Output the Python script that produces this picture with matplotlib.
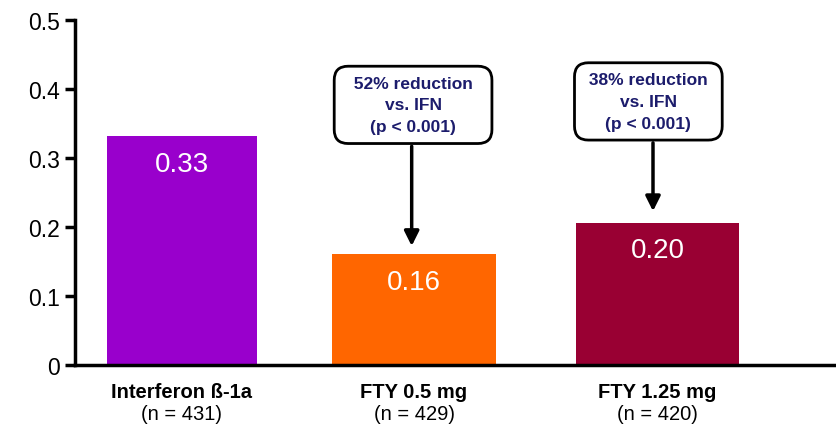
import matplotlib.pyplot as plt

# bar data
groups = ['Interferon ß-1a', 'FTY 0.5 mg', 'FTY 1.25 mg']
n_labels = ['(n = 431)', '(n = 429)', '(n = 420)']
rates = [0.332, 0.161, 0.206]
rate_labels = ['0.33', '0.16', '0.20']
colors = ['#9900CC', '#FF6600', '#990033']

# callouts: text, arrow tip value
callouts = ['  52% reduction  \nvs. IFN\n(p < 0.001)', ' 38% reduction \nvs. IFN\n(p < 0.001)']
callout_tips = [0.1725, 0.223]

positions = [0, 1, 2.05]
widths = [0.65, 0.71, 0.70]

plt.rcParams['font.family'] = ['Liberation Sans', 'DejaVu Sans']

fig = plt.figure(figsize=(8.37, 4.27), dpi=100)
ax = fig.add_axes([75 / 837, 1 - 366 / 427, 1 - 75 / 837, 345 / 427])

ax.bar(positions, rates, width=widths, color=colors, zorder=2)

for x, r, lab in zip(positions, rates, rate_labels):
    ax.text(x, r - 0.04, lab, ha='center', va='center', color='white', fontsize=20)

for x, g, n in zip(positions, groups, n_labels):
    ax.text(x, -0.025, g, ha='center', va='top', fontsize=14.5, fontweight='bold')
    ax.text(x, -0.056, n, ha='center', va='top', fontsize=14.5)

# callout boxes with arrows down to the FTY bars
box_x = [0.996, 2.01]
arrow_x = [0.99, 2.03]
box_y = [0.377, 0.382]
for bx, axx, by, tip, txt in zip(box_x, arrow_x, box_y, callout_tips, callouts):
    ax.annotate('', xy=(axx, tip), xytext=(axx, by - 0.06),
                arrowprops=dict(arrowstyle='-|>', color='black', lw=2.5,
                                mutation_scale=22, shrinkA=0, shrinkB=0))
    ax.text(bx, by, txt, ha='center', va='center', fontsize=12.5,
            fontweight='bold', color='#1c1c6c', linespacing=1.55,
            bbox=dict(boxstyle='round,pad=0.55,rounding_size=0.8',
                      fc='white', ec='black', lw=2), zorder=4)

ax.set_xlim(-0.461, 2.823)
ax.set_ylim(0, 0.5)
ax.set_yticks([0, 0.1, 0.2, 0.3, 0.4, 0.5])
ax.set_yticklabels(['0', '0.1', '0.2', '0.3', '0.4', '0.5'])
ax.set_xticks([])
ax.tick_params(axis='y', direction='out', length=7, width=2.5, labelsize=16.5, pad=4)
for side in ['top', 'right']:
    ax.spines[side].set_visible(False)
ax.spines['left'].set_linewidth(2.5)
ax.spines['bottom'].set_linewidth(2.5)
ax.spines['left'].set_zorder(3)
ax.spines['bottom'].set_zorder(3)

fig.savefig('out.png', dpi=100)
